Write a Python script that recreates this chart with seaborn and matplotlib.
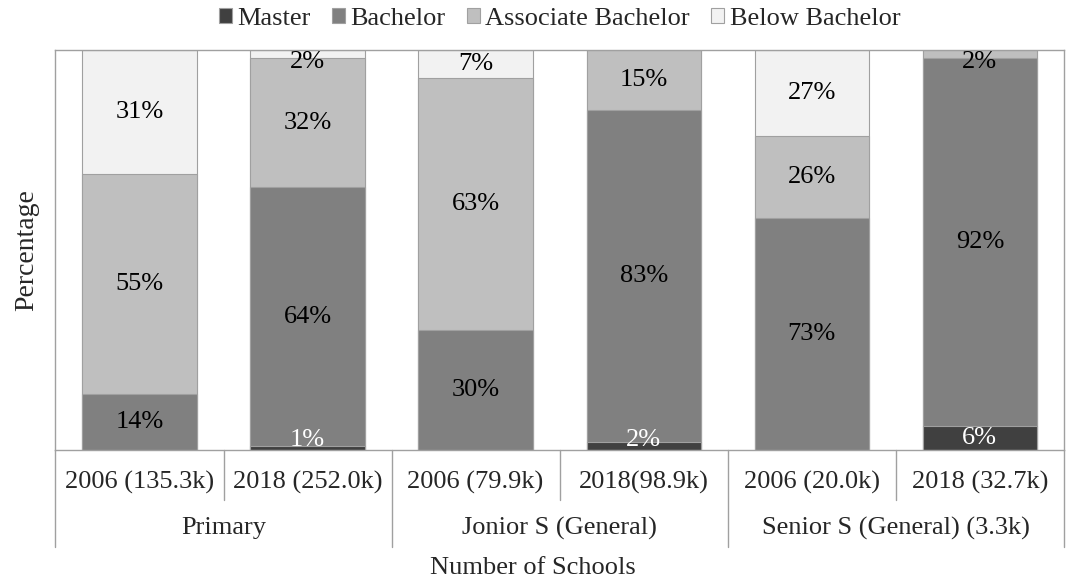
import numpy as np
import pandas as pd
import matplotlib
matplotlib.use("Agg")
import matplotlib.pyplot as plt
import matplotlib.transforms as mtransforms
import seaborn as sns

# data
bars = ["2006 (135.3k)", "2018 (252.0k)", "2006 (79.9k)", "2018(98.9k)", "2006 (20.0k)", "2018 (32.7k)"]
groups = ["Primary", "Jonior S (General)", "Senior S (General) (3.3k)"]
series = ["Master", "Bachelor", "Associate Bachelor", "Below Bachelor"]
master = [0, 1, 0, 2, 0, 6]
bachelor = [14, 64, 30, 83, 73, 92]
associate = [55, 32, 63, 15, 26, 2]
below = [31, 2, 7, 0, 27, 0]

colors = ["#404040", "#808080", "#bfbfbf", "#f2f2f2"]
label_colors = ["white", "black", "black", "black"]
FS = 19

sns.set_theme(style="white")
plt.rcParams["font.family"] = ["Liberation Serif", "DejaVu Serif"]

raw = np.array([master, bachelor, associate, below], dtype=float)
totals = raw.sum(axis=0)
pct = raw / totals * 100
cum = np.cumsum(pct, axis=0)

fig, ax = plt.subplots(figsize=(10.66, 5.83), dpi=100)
fig.subplots_adjust(left=0.052, right=0.998, top=0.914, bottom=0.228)

# draw from the top of the stack down so each layer covers the one below
for k in range(len(series) - 1, -1, -1):
    df = pd.DataFrame({"bar": bars, "val": cum[k]})
    sns.barplot(data=df, x="bar", y="val", color=colors[k], saturation=1,
                width=0.68, edgecolor="#a0a0a0", linewidth=0.8, label=series[k], ax=ax)

# segment labels (raw values)
for k in range(len(series)):
    for i in range(len(bars)):
        if raw[k, i] <= 0:
            continue
        y = cum[k, i] - pct[k, i] / 2
        y = min(max(y, 2.5), 97)
        ax.text(i, y, f"{int(raw[k, i])}%", ha="center", va="center",
                fontsize=FS, color=label_colors[k])

ax.set_ylim(0, 100)
ax.set_xlim(-0.5, len(bars) - 0.5)
ax.set_yticks([])
ax.set_xticks([])
ax.set_xlabel("")
ax.set_ylabel("Percentage", fontsize=20, labelpad=12)
for s in ax.spines.values():
    s.set_color("#a0a0a0")
    s.set_linewidth(1)

# two-level category axis
trans = mtransforms.blended_transform_factory(ax.transData, ax.transAxes)
for i, b in enumerate(bars):
    ax.text(i, -0.08, b, transform=trans, ha="center", va="center", fontsize=FS, clip_on=False)
for i in range(len(bars) + 1):
    depth = -0.243 if i % 2 == 0 else -0.125
    ax.plot([i - 0.5, i - 0.5], [0, depth], transform=trans, color="#a0a0a0",
            linewidth=1, clip_on=False)
for g, name in enumerate(groups):
    ax.text(2 * g + 0.5, -0.195, name, transform=trans, ha="center", va="center",
            fontsize=FS, clip_on=False)
fig.text(0.5, 0.026, "Number of Schools", ha="center", va="center", fontsize=FS)

handles, labels = ax.get_legend_handles_labels()
order = [labels.index(s) for s in series]
ax.legend([handles[j] for j in order], [labels[j] for j in order], loc="lower center",
          bbox_to_anchor=(0.5, 1.0), ncol=4, frameon=False, fontsize=FS,
          handlelength=0.5, handleheight=0.5, handletextpad=0.2, columnspacing=0.8,
          borderaxespad=0.35)

fig.savefig("out.png", dpi=100)
